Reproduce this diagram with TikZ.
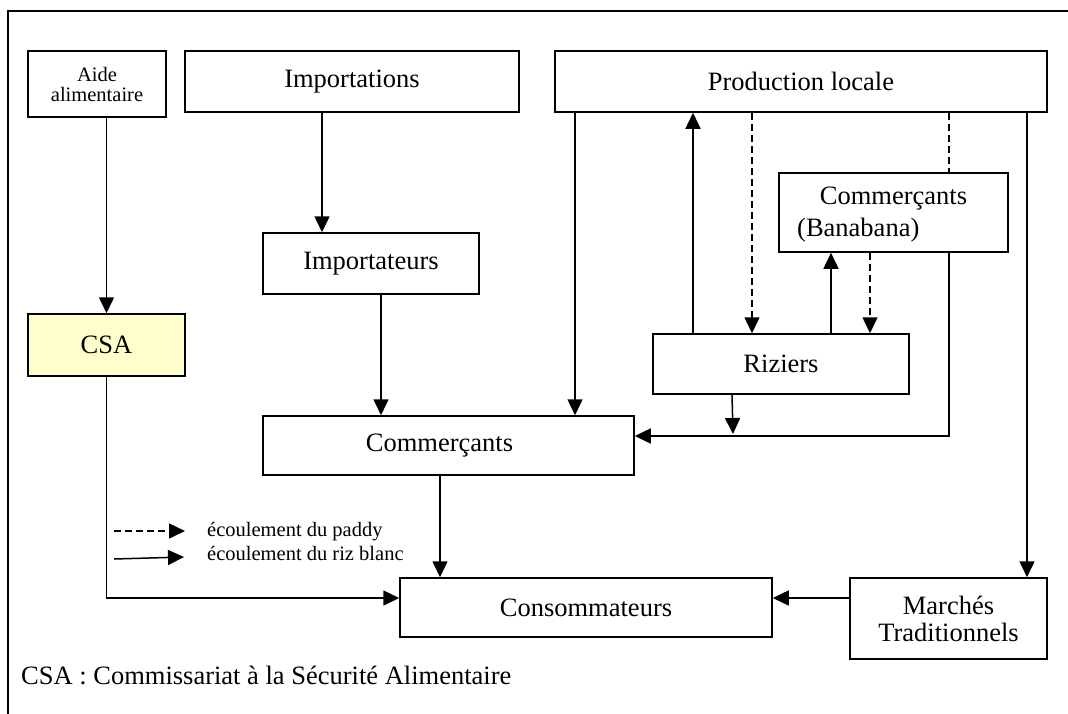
\documentclass[tikz,border=0pt]{standalone}
\usepackage{fontspec}
\setmainfont{Liberation Serif}
\usetikzlibrary{arrows.meta}
\definecolor{csafill}{HTML}{FFFFCC}
\tikzset{
  box/.style={draw, line width=1.5pt, inner sep=0pt, font=\fontsize{26.5}{30}\selectfont, align=center},
  arr/.style={line width=1.5pt, -{Triangle[length=16pt,width=15pt]}},
  darr/.style={line width=1.5pt, dash pattern=on 7pt off 4pt, -{Triangle[length=16pt,width=15pt]}},
  dline/.style={line width=1.5pt, dash pattern=on 7pt off 4pt},
  small/.style={font=\fontsize{20.5}{24}\selectfont},
}
\begin{document}
\begin{tikzpicture}[x=1pt,y=-1pt]
\useasboundingbox (0,0) rectangle (1068,713);
% frame
\coordinate (frTR) at (1070,11);
\coordinate (frTL) at (8,11);
\coordinate (frBL) at (8,715);
\draw[line width=1.5pt] (frTR) -- (frTL) -- (frBL);

% boxes
\node[box, minimum width=138pt, minimum height=66pt, small] (aide) at (97,84) {Aide\\[-4pt]alimentaire};
\node[box, minimum width=334pt, minimum height=61pt] (impn) at (352,81.5) {Importations};
\node[box, minimum width=492pt, minimum height=61pt] (prod) at (801,81.5) {Production locale};
\node[box, minimum width=216pt, minimum height=61pt] (impr) at (371,263.5) {Importateurs};
\node[box, minimum width=157pt, minimum height=62pt, fill=csafill] (csa) at (106.5,345) {CSA};
\node[box, minimum width=371pt, minimum height=59pt, text width=371pt, align=center] (comm) at (448.5,445.5) {\hspace*{-18pt}Commerçants};
\node[box, minimum width=372pt, minimum height=59pt] (cons) at (586,607.5) {Consommateurs};
\node[box, minimum width=197pt, minimum height=81pt] (march) at (948.5,618.5) {Marchés\\[-3pt]Traditionnels};
\node[box, minimum width=256pt, minimum height=60pt] (riz) at (781,364) {Riziers};
\node[box, minimum width=229pt, minimum height=79pt] (bana) at (893.5,212.5) {};
\node[font=\fontsize{26.5}{30}\selectfont, inner sep=0pt] (banaA) at (893.5,199) {Commerçants};
\node[font=\fontsize{26.5}{30}\selectfont, inner sep=0pt, anchor=west] (banaB) at (797,230) {(Banabana)};

% column / row helpers
\coordinate (x322) at (322,0);
\coordinate (x381) at (381,0);
\coordinate (x440) at (440,0);
\coordinate (x575) at (575,0);
\coordinate (x693) at (693,0);
\coordinate (x732) at (732,0);
\coordinate (x752) at (752,0);
\coordinate (x831) at (831,0);
\coordinate (x870) at (870,0);
\coordinate (x949) at (949,0);
\coordinate (x1027) at (1027,0);
\coordinate (y598) at (0,598);
\coordinate (y436) at (0,436);
\coordinate (rzend) at (733,434);

% connectors
\draw[arr] (csa.north |- aide.south) -- (csa.north);
\draw[arr] (impn.south -| x322) -- (impr.north -| x322);
\draw[arr] (impr.south -| x381) -- (comm.north -| x381);
\draw[arr] (csa.south) |- (cons.west |- y598);
\draw[arr] (comm.south -| x440) -- (cons.north -| x440);
\draw[arr] (march.west |- y598) -- (cons.east |- y598);
\draw[arr] (prod.south -| x575) -- (comm.north -| x575);
\draw[arr] (prod.south -| x1027) -- (march.north -| x1027);
\draw[arr] (riz.north -| x693) -- (prod.south -| x693);
\draw[darr] (prod.south -| x752) -- (riz.north -| x752);
\draw[dline] (prod.south -| x949) -- (bana.north -| x949);
\draw[arr] (riz.north -| x831) -- (bana.south -| x831);
\draw[darr] (bana.south -| x870) -- (riz.north -| x870);
\draw[arr] (bana.south -| x949) |- (comm.east |- y436);
\draw[arr] (riz.south -| x732) -- (rzend);

% legend
\coordinate (l1s) at (114,531);
\coordinate (l1e) at (185,531);
\coordinate (l2s) at (114,559);
\coordinate (l2e) at (184,557);
\draw[darr] (l1s) -- (l1e);
\draw[arr] (l2s) -- (l2e);
\node[small, anchor=base west, inner sep=0pt] (leg1) at (207,536) {écoulement du paddy};
\node[small, anchor=base west, inner sep=0pt] (leg2) at (207,560) {écoulement du riz blanc};

% footnote
\node[font=\fontsize{26.5}{30}\selectfont, anchor=base west, inner sep=0pt] (foot) at (21,684) {CSA : Commissariat à la Sécurité Alimentaire};
\end{tikzpicture}
\end{document}
